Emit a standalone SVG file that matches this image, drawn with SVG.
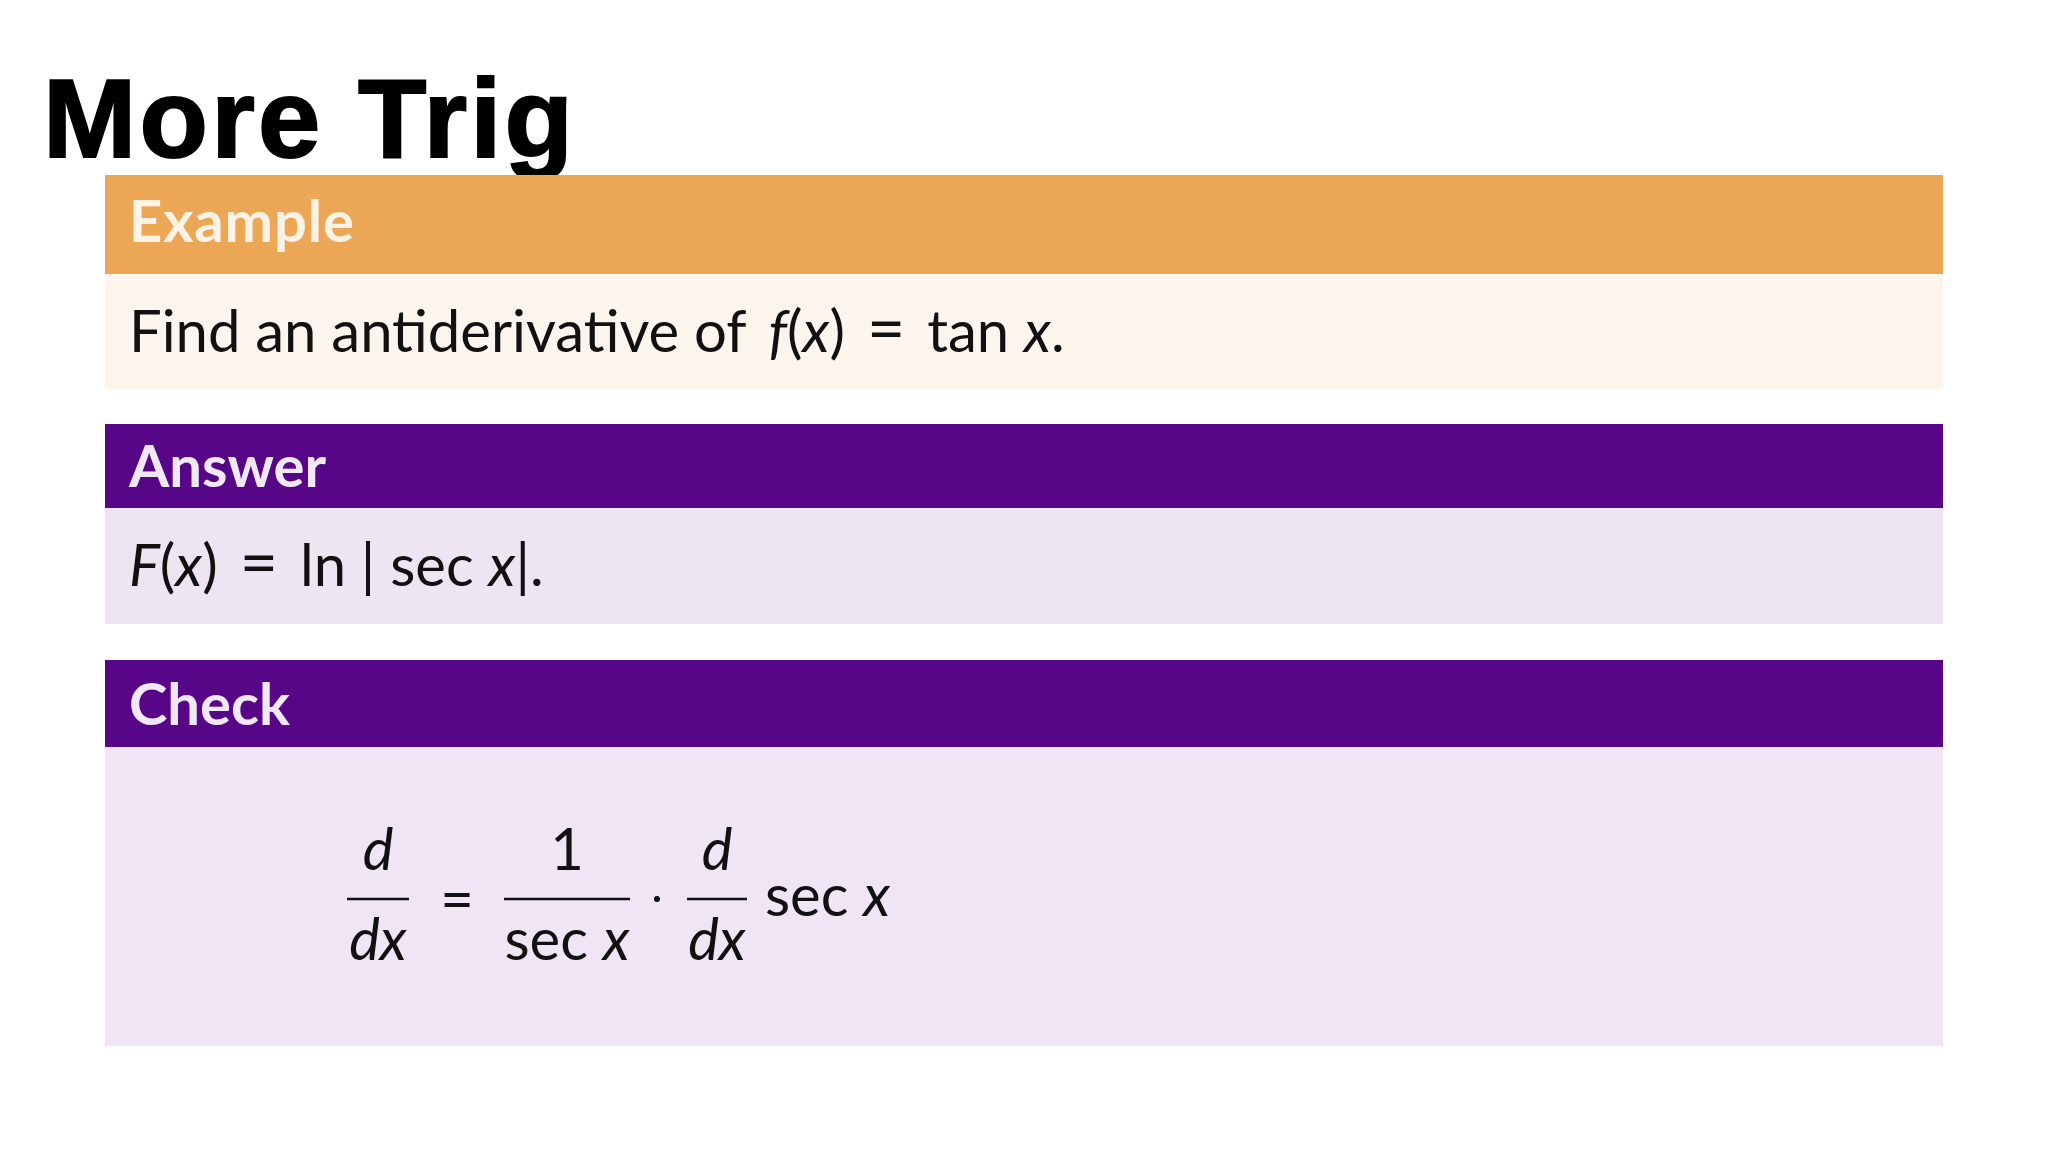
<svg xmlns="http://www.w3.org/2000/svg" width="2048" height="1152" viewBox="0 0 2048 1152">
<style>
.h{font-family:Lato,"Open Sans",sans-serif;font-weight:bold;font-size:58px}
.t{font-family:Lato,"Open Sans",sans-serif;font-size:58px;fill:#111}
.i{font-style:italic}
.m{font-family:Lato,"Open Sans",sans-serif;font-size:58px;fill:#111;text-anchor:middle}
</style>
<rect width="2048" height="1152" fill="#fff"/>
<text x="43" y="157" font-family="Liberation Sans,Arial,sans-serif" font-weight="bold" font-size="112" textLength="530" fill="#000" stroke="#000" stroke-width="2">More Trig</text>
<g id="example">
<rect x="105" y="175" width="1838" height="99" fill="#EBA755"/>
<rect x="105" y="274" width="1838" height="115" fill="#FCF5EE"/>
<text class="h" x="129" y="242" fill="#FDF2E6" textLength="225">Example</text>
<text class="t" x="129" y="352">Find an antiderivative of <tspan class="i" dx="8">f</tspan>(<tspan class="i">x</tspan>)<tspan font-size="66" dx="22">=</tspan><tspan dx="22">tan </tspan><tspan class="i">x</tspan>.</text>
</g>
<g id="answer">
<rect x="105" y="424" width="1838" height="84" fill="#560686"/>
<rect x="105" y="508" width="1838" height="116" fill="#EDE5F2"/>
<text class="h" x="129" y="487" fill="#F1E8F6">Answer</text>
<text class="t" x="129" y="586"><tspan class="i">F</tspan>(<tspan class="i">x</tspan>)<tspan font-size="66" dx="22">=</tspan><tspan dx="22">ln | sec </tspan><tspan class="i">x</tspan>|.</text>
</g>
<g id="check">
<rect x="105" y="660" width="1838" height="87" fill="#560686"/>
<rect x="105" y="747" width="1838" height="299" fill="#EFE5F4"/>
<text class="h" x="129" y="725" fill="#F1E8F6">Check</text>
<text class="m i" x="378" y="870">d</text>
<line x1="347" y1="899" x2="409" y2="899" stroke="#111" stroke-width="2.5"/>
<text class="m i" x="378" y="960">dx</text>
<text class="m" x="457" y="920" font-size="66">=</text>
<text class="m" x="567" y="870">1</text>
<line x1="504" y1="899" x2="630" y2="899" stroke="#111" stroke-width="2.5"/>
<text class="m" x="567" y="960">sec <tspan class="i">x</tspan></text>
<circle cx="657" cy="899" r="3" fill="#111"/>
<text class="m i" x="717" y="870">d</text>
<line x1="687" y1="899" x2="747" y2="899" stroke="#111" stroke-width="2.5"/>
<text class="m i" x="717" y="960">dx</text>
<text class="t" x="765" y="916">sec <tspan class="i">x</tspan></text>
</g>
</svg>
